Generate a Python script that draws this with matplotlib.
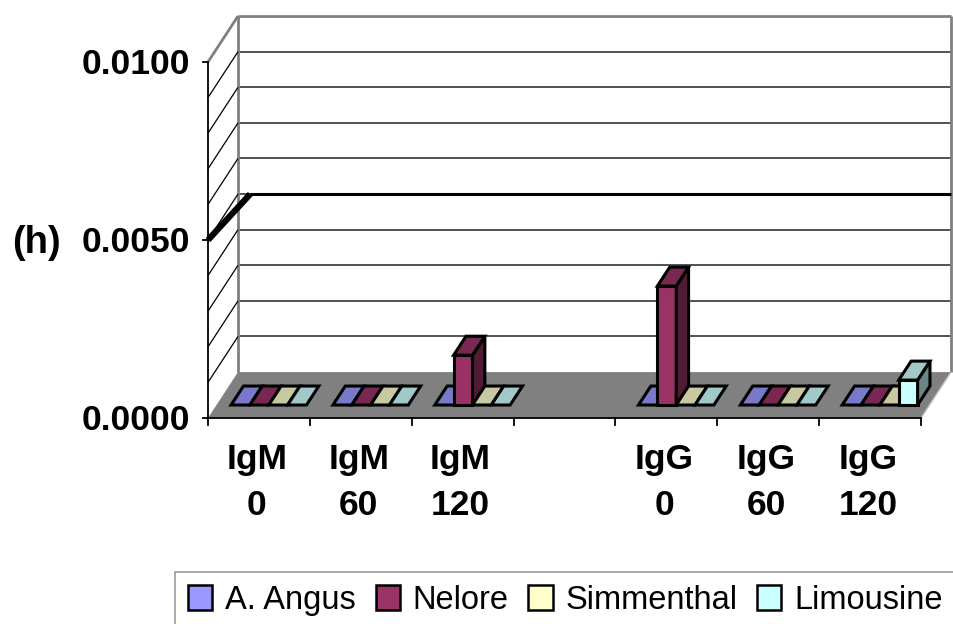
import matplotlib
matplotlib.use("Agg")
import matplotlib.pyplot as plt
from matplotlib.patches import Polygon, Patch
import numpy as np

plt.rcParams['font.family'] = ['Liberation Sans', 'DejaVu Sans']

# categories (empty slot separates IgM from IgG)
groups = ["IgM", "IgM", "IgM", "", "IgG", "IgG", "IgG"]
times = ["0", "60", "120", "", "0", "60", "120"]

series = ["A. Angus", "Nelore", "Simmenthal", "Limousine"]
angus = [0, 0, 0, None, 0, 0, 0]
nelore = [0, 0, 0.0014, None, 0.00334, 0, 0]
simmenthal = [0, 0, 0, None, 0, 0, 0]
limousine = [0, 0, 0, None, 0, 0, 0.0007]
values = [angus, nelore, simmenthal, limousine]
colors = ["#9999FF", "#993366", "#FFFFCC", "#CCFFFF"]

threshold = 0.005
y_ticks = [0.0, 0.005, 0.01]
y_max = 0.01
grid_step = 0.001

# pseudo-3D box: oblique depth offset in data units
DX = 0.2945
DY = 0.00129
Z0, Z1 = 0.283, 0.696      # bar depth range
BAR_START, BAR_W = 0.143, 0.185

fig = plt.figure(figsize=(9.54, 6.24), dpi=100)
ax = fig.add_axes([0, 0, 1, 1])
ax.axis('off')
ax.set_xlim(-208 / 101.86, (954 - 208) / 101.86)
ax.set_ylim((418 - 624) / 35600, 418 / 35600)

n = len(groups)


def proj(x, y, z):
    return (x + z * DX, y + z * DY)


def face(pts, fc, ec="black", lw=2.2, z=3):
    ax.add_patch(Polygon([proj(*p) for p in pts], closed=True, facecolor=fc,
                         edgecolor=ec, linewidth=lw, joinstyle='miter', zorder=z))


def shade(hexcol, f):
    c = np.array(matplotlib.colors.to_rgb(hexcol)) * f
    return tuple(c)


def line3(p, q, **kw):
    a, b = proj(*p), proj(*q)
    ax.plot([a[0], b[0]], [a[1], b[1]], solid_capstyle='butt', **kw)


# back wall gridlines
for v in np.arange(grid_step, y_max, grid_step):
    line3((0, v, 1), (n, v, 1), color="#333333", lw=1.2, zorder=1)
# back wall border
line3((0, 0, 1), (0, y_max, 1), color="#808080", lw=2, zorder=1)
line3((0, y_max, 1), (n, y_max, 1), color="#808080", lw=2, zorder=1)
line3((n, 0, 1), (n, y_max, 1), color="#808080", lw=2, zorder=1)

# side wall diagonals
for v in np.arange(grid_step, y_max, grid_step):
    line3((0, v, 0), (0, v, 1), color="black", lw=0.9, zorder=1)
line3((0, y_max, 0), (0, y_max, 1), color="#808080", lw=2, zorder=1)

# floor
face([(0, 0, 0), (n, 0, 0), (n, 0, 1), (0, 0, 1)], "#808080", ec="none", lw=0, z=2)
line3((n, 0, 0), (n, 0, 1), color="#C0C0C0", lw=1, zorder=2)

# threshold line (h)
line3((0, threshold, 0), (0.12, threshold, 1), color="black", lw=4.5, zorder=2)
line3((0.12, threshold, 1), (n, threshold, 1), color="black", lw=2.2, zorder=2)

# bars
for i in range(n):
    for j, vals in enumerate(values):
        v = vals[i]
        if v is None:
            continue
        x0 = i + BAR_START + j * BAR_W
        x1 = x0 + BAR_W
        col = colors[j]
        if v > 0:
            face([(x0, 0, Z0), (x1, 0, Z0), (x1, v, Z0), (x0, v, Z0)], col)
            face([(x1, 0, Z0), (x1, 0, Z1), (x1, v, Z1), (x1, v, Z0)], shade(col, 0.52))
        face([(x0, v, Z0), (x1, v, Z0), (x1, v, Z1), (x0, v, Z1)], shade(col, 0.79))

# value axis
tick_len_x = 5 / 101.86
line3((0, 0, 0), (0, y_max, 0), color="black", lw=1.3, zorder=4)
for t in y_ticks:
    ax.plot([-tick_len_x, 0], [t, t], color="black", lw=1.3, zorder=4)
    ax.text(-0.175, t - 0.00008, f"{t:.4f}", ha="right", va="center",
            fontsize=25.5, fontweight="bold")
ax.text(-1.92, threshold - 0.00008, "(h)", ha="left", va="center",
        fontsize=27.5, fontweight="bold")

# category axis
tick_len_y = 7 / 35600
ax.plot([0, n], [0, 0], color="black", lw=1.3, zorder=4)
for i in range(n + 1):
    ax.plot([i, i], [0, -tick_len_y], color="black", lw=1.3, zorder=4)
for i in range(n):
    ax.text(i + 0.48, (418 - 469) / 35600, groups[i], ha="center", va="baseline",
            fontsize=25.5, fontweight="bold")
    ax.text(i + 0.48, (418 - 515) / 35600, times[i], ha="center", va="baseline",
            fontsize=25.5, fontweight="bold")

handles = [Patch(facecolor=c, edgecolor="black", linewidth=1.8) for c in colors]
leg = fig.legend(handles, series, loc="upper left",
                 bbox_to_anchor=(175 / 954, 1 - 572 / 624), borderaxespad=0,
                 ncol=4, fontsize=23.5, frameon=True, fancybox=False,
                 handlelength=0.74, handleheight=0.8, handletextpad=0.4,
                 columnspacing=0.6, borderpad=0.4)
leg.get_frame().set_edgecolor("#808080")
leg.get_frame().set_linewidth(1.2)

fig.savefig("out.png", dpi=100)
